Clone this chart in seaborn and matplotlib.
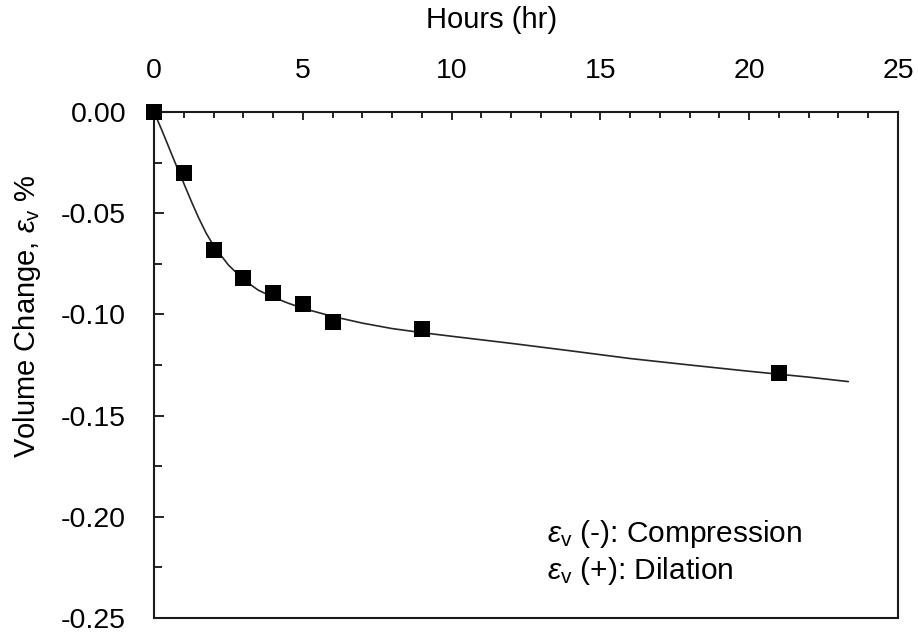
import matplotlib
matplotlib.use("Agg")
import matplotlib.pyplot as plt
from matplotlib.ticker import MultipleLocator
import seaborn as sns

# Measured volume change over time
hours = [0, 1, 2, 3, 4, 5, 6, 9, 21]
volume_change = [0.0, -0.0303, -0.0682, -0.0822, -0.0894, -0.0950, -0.1036, -0.1071, -0.1291]

# Fitted trend curve
fit_hours = [0.0, 0.25, 0.5, 0.75, 1.0, 1.25, 1.5, 1.75, 2.0, 2.5, 3.0, 3.5, 4.0,
             4.5, 5.0, 6.0, 7.0, 8.0, 9.0, 10.0, 12.0, 14.0, 16.0, 18.0, 20.0,
             22.0, 23.33]
fit_change = [0.0, -0.0085, -0.0175, -0.0265, -0.0352, -0.0440, -0.0523, -0.0598,
              -0.0660, -0.0756, -0.0827, -0.0880, -0.0915, -0.0944, -0.0970,
              -0.1010, -0.1043, -0.1070, -0.1090, -0.1108, -0.1143, -0.1180,
              -0.1218, -0.1250, -0.1281, -0.1310, -0.1332]

x_ticks = [0, 5, 10, 15, 20, 25]
y_ticks = [0.00, -0.05, -0.10, -0.15, -0.20, -0.25]
y_tick_labels = ["0.00", "-0.05", "-0.10", "-0.15", "-0.20", "-0.25"]

sns.set_style("white")
plt.rcParams["font.family"] = ["Liberation Sans", "DejaVu Sans"]
plt.rcParams.update({
    "mathtext.fontset": "custom",
    "mathtext.rm": "Liberation Sans",
    "mathtext.it": "Liberation Sans:italic",
    "axes.unicode_minus": False,
    "text.color": "black",
    "axes.labelcolor": "black",
    "xtick.color": "black",
    "ytick.color": "black",
})

fig = plt.figure(figsize=(9.18, 6.32), dpi=100)
ax = fig.add_axes([154 / 918, 1 - 618 / 632, 744 / 918, 506 / 632])

sns.lineplot(x=fit_hours, y=fit_change, ax=ax, color="#262626", linewidth=1.2,
             sort=False, zorder=3)
sns.scatterplot(x=hours, y=volume_change, ax=ax, marker="s", s=125, color="black",
                edgecolor="black", linewidth=0, zorder=6, clip_on=False)

ax.set_xlim(0, 25)
ax.set_ylim(-0.25, 0.0)
ax.set_xticks(x_ticks)
ax.set_xticklabels([str(v) for v in x_ticks])
ax.set_yticks(y_ticks)
ax.set_yticklabels(y_tick_labels)
ax.xaxis.set_minor_locator(MultipleLocator(1))
ax.yaxis.set_minor_locator(MultipleLocator(0.025))

ax.xaxis.tick_top()
ax.xaxis.set_label_position("top")
ax.tick_params(axis="both", which="both", direction="in", top=True, bottom=False,
               left=True, right=False, width=1.2, colors="black", labelsize=20.5, pad=20)
ax.tick_params(axis="x", which="major", length=6)
ax.tick_params(axis="x", which="minor", length=4.5)
ax.tick_params(axis="y", which="major", length=7.5)
ax.tick_params(axis="y", which="minor", length=6)

for side in ["left", "right", "top", "bottom"]:
    ax.spines[side].set_visible(True)
    ax.spines[side].set_color("#1a1a1a")
    ax.spines[side].set_linewidth(1.5)

ax.set_xlabel("Hours (hr)", fontsize=21)
ax.xaxis.set_label_coords(0.454, 1.182)
ax.xaxis.label.set_va("center")

ax.set_ylabel(r"Volume Change, $\varepsilon_\mathrm{v}$ %", fontsize=21)
ax.yaxis.set_label_coords(-0.1707, 0.597)
ax.yaxis.label.set_va("center")

ax.text(0.528, 0.166, r"$\varepsilon_\mathrm{v}$ (-): Compression", transform=ax.transAxes,
        fontsize=21.5, va="center", ha="left")
ax.text(0.528, 0.093, r"$\varepsilon_\mathrm{v}$ (+): Dilation", transform=ax.transAxes,
        fontsize=21.5, va="center", ha="left")

fig.savefig("out.png", dpi=100)
